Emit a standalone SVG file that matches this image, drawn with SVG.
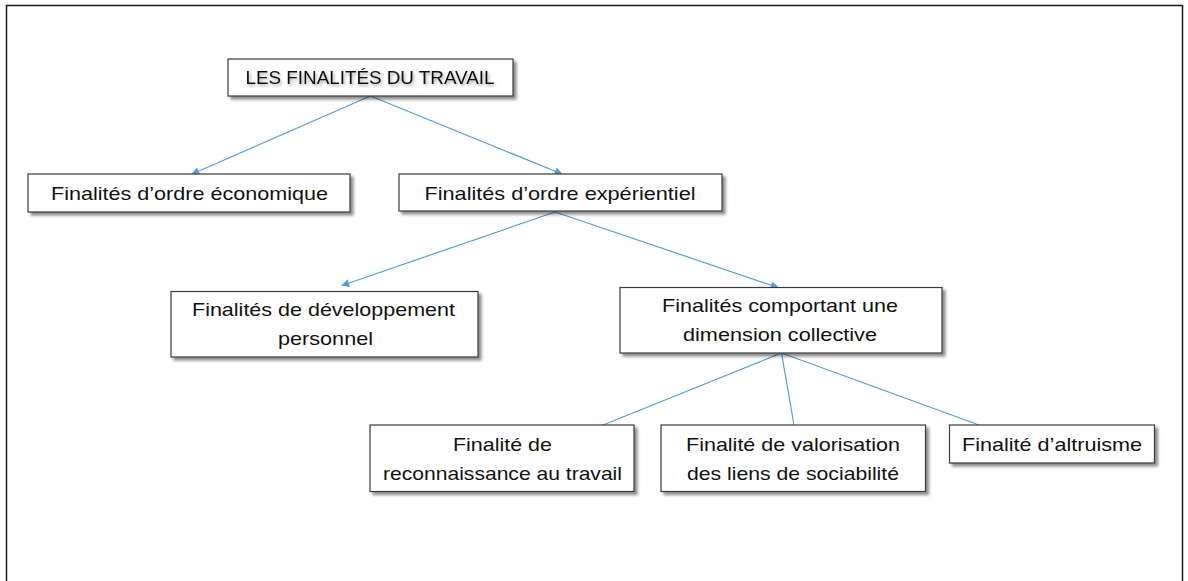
<svg xmlns="http://www.w3.org/2000/svg" width="1188" height="581" viewBox="0 0 1188 581">
  <defs>
    <filter id="shadow" x="-10%" y="-30%" width="125%" height="170%">
      <feDropShadow dx="3" dy="3" stdDeviation="1.6" flood-color="#000" flood-opacity="0.45"/>
    </filter>
    <filter id="textShadow" x="-5%" y="-40%" width="110%" height="180%">
      <feDropShadow dx="1.5" dy="2" stdDeviation="1.5" flood-color="#000" flood-opacity="0.35"/>
    </filter>
    <marker id="arrow" viewBox="0 0 10 10" refX="9" refY="5" markerWidth="9" markerHeight="8" markerUnits="userSpaceOnUse" orient="auto">
      <path d="M0,0 L10,5 L0,10 z" fill="#5B9BD5"/>
    </marker>
  </defs>
  <style>
    .box { fill: #ffffff; stroke: #3a3a3a; stroke-width: 1.2; filter: url(#shadow); }
    .label { font-family: "Liberation Sans", Arial, sans-serif; font-size: 19px; fill: #111; text-anchor: middle; }
    .link { stroke: #5B9BD5; stroke-width: 1.2; fill: none; }
    .arrowed { marker-end: url(#arrow); }
  </style>

  <rect x="0" y="0" width="1188" height="581" fill="#ffffff"/>
  <!-- page frame -->
  <path d="M6.5,581 V5.5 H1182.5 V581" fill="none" stroke="#1a1a1a" stroke-width="1.5"/>

  <!-- connectors -->
  <g id="connectors">
    <line class="link arrowed" x1="370.5" y1="96" x2="192" y2="174"/>
    <line class="link arrowed" x1="370.5" y1="96" x2="562" y2="174"/>
    <line class="link arrowed" x1="555" y1="212" x2="342" y2="285.5"/>
    <line class="link arrowed" x1="555" y1="212" x2="778" y2="287.5"/>
    <line class="link" x1="781.5" y1="353" x2="603" y2="425"/>
    <line class="link" x1="781.5" y1="353" x2="794" y2="425"/>
    <line class="link" x1="781.5" y1="353" x2="979" y2="425"/>
  </g>

  <!-- root -->
  <g id="node-finalites-travail">
    <rect class="box" x="228" y="59" width="285" height="37"/>
    <text class="label" x="370" y="84" textLength="249" lengthAdjust="spacingAndGlyphs" filter="url(#textShadow)">LES FINALITÉS DU TRAVAIL</text>
  </g>

  <g id="node-economique">
    <rect class="box" x="28" y="174" width="322" height="38"/>
    <text class="label" x="189.5" y="200" textLength="277" lengthAdjust="spacingAndGlyphs">Finalités d’ordre économique</text>
  </g>

  <g id="node-experientiel">
    <rect class="box" x="399" y="174" width="323" height="37"/>
    <text class="label" x="560" y="200" textLength="271" lengthAdjust="spacingAndGlyphs">Finalités d’ordre expérientiel</text>
  </g>

  <g id="node-developpement">
    <rect class="box" x="171" y="291.5" width="307" height="65.5"/>
    <text class="label" x="323.5" y="316" textLength="263" lengthAdjust="spacingAndGlyphs">Finalités de développement</text>
    <text class="label" x="325.5" y="345" textLength="95" lengthAdjust="spacingAndGlyphs">personnel</text>
  </g>

  <g id="node-collective">
    <rect class="box" x="620" y="287.5" width="322" height="65.5"/>
    <text class="label" x="780" y="312" textLength="236" lengthAdjust="spacingAndGlyphs">Finalités comportant une</text>
    <text class="label" x="780" y="340.5" textLength="194" lengthAdjust="spacingAndGlyphs">dimension collective</text>
  </g>

  <g id="node-reconnaissance">
    <rect class="box" x="370" y="425" width="264" height="66.5"/>
    <text class="label" x="502.5" y="451" textLength="99" lengthAdjust="spacingAndGlyphs">Finalité de</text>
    <text class="label" x="502.5" y="480" textLength="239" lengthAdjust="spacingAndGlyphs">reconnaissance au travail</text>
  </g>

  <g id="node-sociabilite">
    <rect class="box" x="661" y="425" width="264.5" height="66.5"/>
    <text class="label" x="793" y="451" textLength="214" lengthAdjust="spacingAndGlyphs">Finalité de valorisation</text>
    <text class="label" x="793" y="480" textLength="212" lengthAdjust="spacingAndGlyphs">des liens de sociabilité</text>
  </g>

  <g id="node-altruisme">
    <rect class="box" x="949.5" y="425" width="205" height="38"/>
    <text class="label" x="1052" y="451" textLength="180" lengthAdjust="spacingAndGlyphs">Finalité d’altruisme</text>
  </g>
</svg>
